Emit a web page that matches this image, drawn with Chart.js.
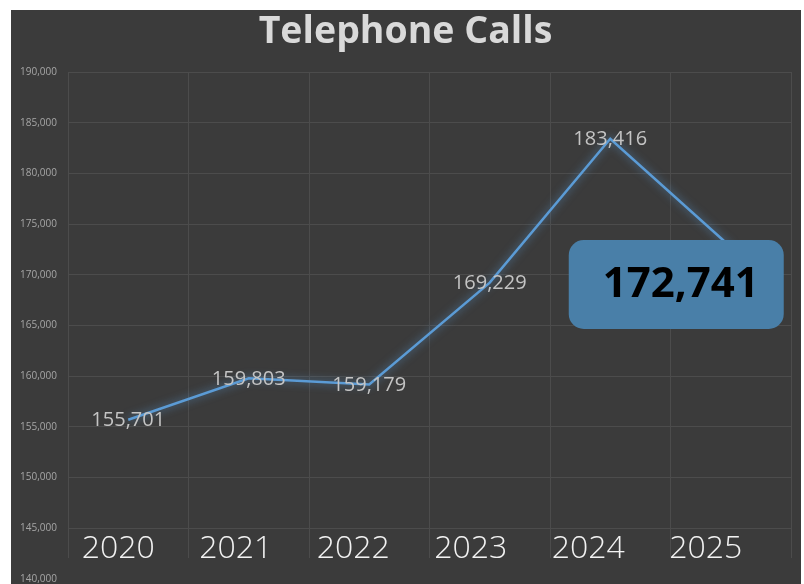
<!DOCTYPE html>
<html>
<head>
<meta charset="utf-8">
<script src="https://cdn.jsdelivr.net/npm/chart.js@4"></script>
<style>
    html, body { margin: 0; padding: 0; background: #ffffff; overflow: hidden; }
    .panel {
        position: absolute;
        left: 11px;
        top: 10px;
        width: 790px;
        height: 574px;
        overflow: hidden;
        background: #3b3b3b;
    }
</style>
</head>
<body>
<div class="panel"><canvas id="callsChart" width="790" height="586"></canvas></div>
<script>
// Chart data
const years = ['2020', '2021', '2022', '2023', '2024', '2025'];
const calls = [155701, 159803, 159179, 169229, 183416, 172741];
const yTicks = [140000, 145000, 150000, 155000, 160000, 165000, 170000, 175000, 180000, 185000, 190000];

function fmt(v) {
    return v.toLocaleString('en-US');
}

// Soft glow around the line
const glowPlugin = {
    id: 'glow',
    beforeDatasetDraw(chart) {
        chart.ctx.save();
        chart.ctx.shadowColor = 'rgba(91, 155, 213, 0.75)';
        chart.ctx.shadowBlur = 9;
    },
    afterDatasetDraw(chart) {
        chart.ctx.restore();
    }
};

// Value labels, year labels and the highlighted last value
const labelPlugin = {
    id: 'valueLabels',
    afterDraw(chart) {
        const ctx = chart.ctx;
        const area = chart.chartArea;
        const xScale = chart.scales.x;
        const points = chart.getDatasetMeta(0).data;

        // hide the bottom stubs of the vertical grid lines
        ctx.save();
        ctx.fillStyle = '#3b3b3b';
        ctx.fillRect(area.left - 1, area.bottom - 21, area.right - area.left + 3, 30);
        ctx.restore();

        ctx.save();
        ctx.textAlign = 'center';
        ctx.textBaseline = 'middle';

        // value labels, centred on each point
        ctx.font = '20px "Open Sans"';
        ctx.fillStyle = '#c4c4c4';
        points.forEach((pt, i) => {
            if (i === points.length - 1) return;
            ctx.fillText(fmt(calls[i]), pt.x, pt.y + 1);
        });

        // year labels inside the plot
        ctx.font = '300 32px "Open Sans"';
        ctx.fillStyle = '#f2f2f2';
        years.forEach((y, i) => {
            ctx.fillText(y, xScale.getPixelForValue(i) - 10 - 3 * i, area.bottom - 30);
        });

        // highlighted last value box
        const last = points[points.length - 1];
        const bx = last.x - 162, by = last.y - 7, bw = 215, bh = 89;
        ctx.fillStyle = '#497fa8';
        ctx.beginPath();
        ctx.roundRect(bx, by, bw, bh, 15);
        ctx.fill();
        ctx.font = 'bold 42px "Open Sans"';
        ctx.fillStyle = '#000000';
        ctx.fillText(fmt(calls[calls.length - 1]), bx + 112, by + bh / 2 + 1);
        ctx.restore();
    }
};

document.addEventListener('DOMContentLoaded', function() {
    const ctx = document.getElementById('callsChart');
    new Chart(ctx, {
        type: 'line',
        data: {
            labels: years,
            datasets: [{
                label: 'Telephone Calls',
                data: calls,
                borderColor: '#5b9bd5',
                borderWidth: 2.5,
                pointRadius: 0,
                tension: 0,
                fill: false
            }]
        },
        options: {
            responsive: false,
            animation: false,
            layout: {
                padding: { left: 9, right: 10, top: 0, bottom: 6 }
            },
            plugins: {
                legend: { display: false },
                tooltip: { enabled: false },
                title: {
                    display: true,
                    text: 'Telephone Calls',
                    color: '#d9d9d9',
                    font: { family: '"Open Sans"', size: 37.5, weight: 'bold', lineHeight: 1.2 },
                    padding: { top: 0, bottom: 17 }
                }
            },
            scales: {
                x: {
                    offset: true,
                    grid: {
                        offset: true,
                        color: '#4c4c4c',
                        drawTicks: false
                    },
                    border: { display: false },
                    ticks: { display: false }
                },
                y: {
                    min: yTicks[0],
                    max: yTicks[yTicks.length - 1],
                    afterBuildTicks: function(scale) {
                        scale.ticks = yTicks.map(v => ({ value: v }));
                    },
                    afterFit: function(scale) {
                        scale.width = 48;
                    },
                    grid: {
                        color: '#4c4c4c',
                        drawTicks: false
                    },
                    border: { color: '#4c4c4c' },
                    ticks: {
                        color: '#a6a6a6',
                        padding: 11,
                        crossAlign: 'far',
                        font: { family: '"Open Sans"', size: 10 },
                        callback: function(value) {
                            return fmt(value);
                        }
                    }
                }
            }
        },
        plugins: [glowPlugin, labelPlugin]
    });
});
</script>
</body>
</html>
